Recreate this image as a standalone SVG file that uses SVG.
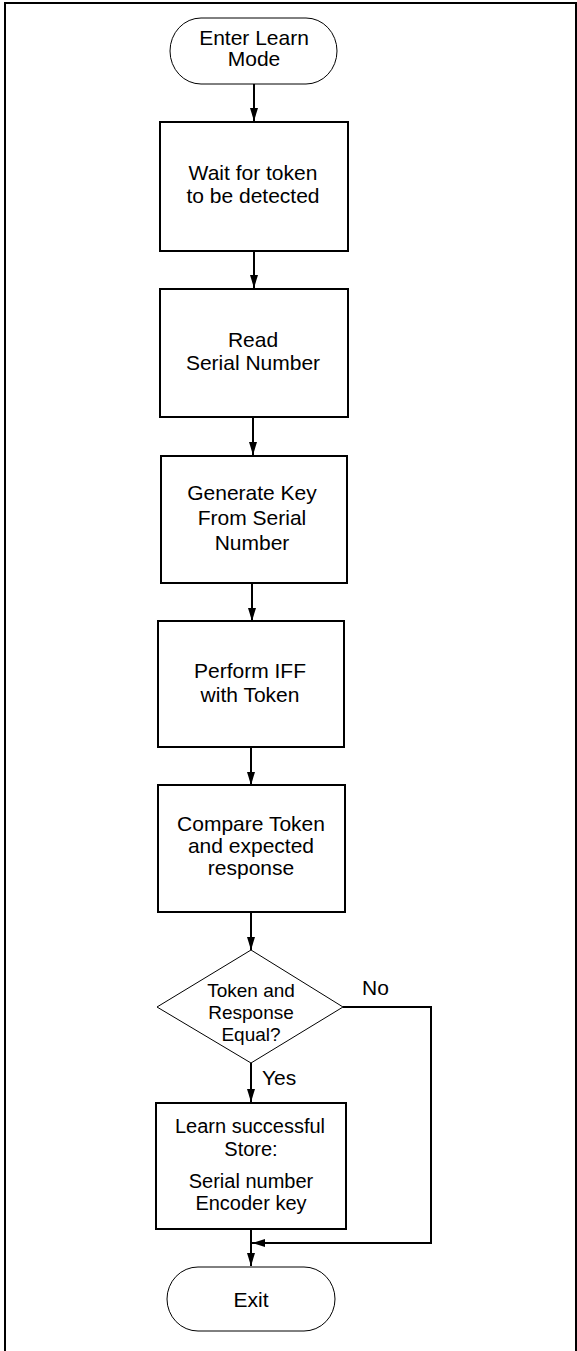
<svg xmlns="http://www.w3.org/2000/svg" width="577" height="1351" viewBox="0 0 577 1351">
<style>
text{font-family:"Liberation Sans",Arial,sans-serif;font-size:21px;fill:#000;text-anchor:middle}
.sm{font-size:20px}
.box{fill:#fff;stroke:#000;stroke-width:2}
.term{fill:#fff;stroke:#000;stroke-width:1}
.dia{fill:#fff;stroke:#000;stroke-width:1}
.con{fill:none;stroke:#000;stroke-width:2}
.frame{fill:none;stroke:#000;stroke-width:2}
</style>
<defs>
<marker id="ah" markerWidth="13" markerHeight="8" refX="13" refY="4" orient="auto" markerUnits="userSpaceOnUse" viewBox="0 0 13 8">
<path d="M0,0 L13,4 L0,8 Z" fill="#000"/>
</marker>
</defs>
<rect width="577" height="1351" fill="#fff"/>
<path class="frame" d="M5,1351 V3 H576 V1351"/>
<g id="connectors">
<line class="con" x1="254" y1="84" x2="254" y2="121" marker-end="url(#ah)"/>
<line class="con" x1="254" y1="251" x2="254" y2="288" marker-end="url(#ah)"/>
<line class="con" x1="253" y1="417" x2="253" y2="455" marker-end="url(#ah)"/>
<line class="con" x1="252" y1="583" x2="252" y2="621" marker-end="url(#ah)"/>
<line class="con" x1="251" y1="747" x2="251" y2="785" marker-end="url(#ah)"/>
<line class="con" x1="251" y1="912" x2="251" y2="950" marker-end="url(#ah)"/>
<line class="con" x1="251" y1="1063" x2="251" y2="1102" marker-end="url(#ah)"/>
<line class="con" x1="251" y1="1229" x2="251" y2="1266" marker-end="url(#ah)"/>
<polyline class="con" points="343,1007 431,1007 431,1243 252,1243" marker-end="url(#ah)"/>
<text x="362" y="995" style="text-anchor:start">No</text>
<text x="262" y="1085" style="text-anchor:start">Yes</text>
</g>
<g id="start">
<rect class="term" x="170" y="18" width="167" height="66" rx="31" ry="33"/>
<text x="254" y="45">Enter Learn</text>
<text x="254" y="66">Mode</text>
</g>
<g id="wait">
<rect class="box" x="160" y="122" width="188" height="129"/>
<text x="253" y="180">Wait for token</text>
<text x="253" y="203">to be detected</text>
</g>
<g id="read">
<rect class="box" x="160" y="289" width="188" height="128"/>
<text x="253" y="347">Read</text>
<text x="253" y="370">Serial Number</text>
</g>
<g id="generate">
<rect class="box" x="161" y="456" width="186" height="127"/>
<text x="252" y="500">Generate Key</text>
<text x="252" y="525">From Serial</text>
<text x="252" y="550">Number</text>
</g>
<g id="perform">
<rect class="box" x="158" y="621" width="186" height="126"/>
<text x="250" y="678">Perform IFF</text>
<text x="250" y="702">with Token</text>
</g>
<g id="compare">
<rect class="box" x="158" y="785" width="187" height="127"/>
<text x="251" y="831">Compare Token</text>
<text x="251" y="853">and expected</text>
<text x="251" y="875">response</text>
</g>
<g id="decision">
<polygon class="dia" points="251,950 343,1007 251,1063 157,1007"/>
<text x="251" y="997" style="font-size:19px">Token and</text>
<text x="251" y="1019" style="font-size:19px">Response</text>
<text x="251" y="1041" style="font-size:19px">Equal?</text>
</g>
<g id="learn">
<rect class="box" x="156" y="1103" width="190" height="126"/>
<text class="sm" x="250" y="1133">Learn successful</text>
<text class="sm" x="251" y="1156">Store:</text>
<text class="sm" x="251" y="1188">Serial number</text>
<text class="sm" x="251" y="1210">Encoder key</text>
</g>
<g id="exit">
<rect class="term" x="167" y="1267" width="168" height="64" rx="31" ry="32"/>
<text x="251" y="1307">Exit</text>
</g>
</svg>
